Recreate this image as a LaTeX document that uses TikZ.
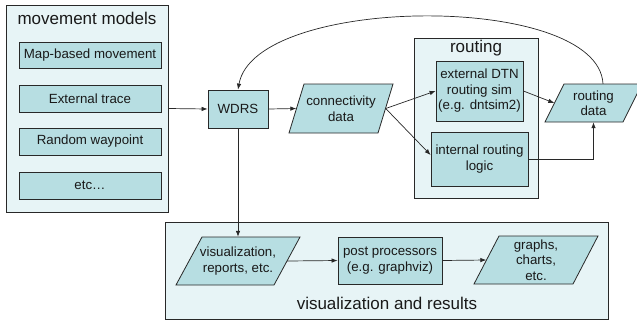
\documentclass[tikz,border=0pt]{standalone}
\usepackage{fontspec}
\setmainfont{Liberation Sans}
\usetikzlibrary{arrows.meta}
\definecolor{boxfill}{RGB}{183,222,226}
\definecolor{contfill}{RGB}{231,244,246}
\definecolor{bordc}{RGB}{40,40,40}
\definecolor{txtc}{RGB}{25,25,25}
\newcommand\parabox[7]{%
  \draw[parashape] ({#2-#4/2},{#3+#5/2}) -- ++(#6,-#5) -- ++(#4-#6,0) -- ++(-#6,#5) -- cycle;
  \node[paratext, minimum width=#4pt, minimum height=#5pt] (#1) at (#2,#3) {#7};}
\begin{document}
\begin{tikzpicture}[x=1pt,y=-1pt,
  smallfont/.style={font=\fontsize{13.3}{15.5}\selectfont, text=txtc},
  titlefont/.style={font=\fontsize{17}{20}\selectfont, text=txtc},
  container/.style={draw=bordc, fill=contfill, line width=0.8pt, inner sep=0pt},
  stepbox/.style={draw=bordc, fill=boxfill, line width=0.8pt, inner sep=0pt, align=center, smallfont},
  parashape/.style={draw=bordc, fill=boxfill, line width=0.8pt},
  paratext/.style={inner sep=0pt, align=center, smallfont},
  titletext/.style={inner sep=0pt, titlefont},
  conn/.style={draw=bordc, line width=0.7pt, -{Latex[length=6pt,width=4.5pt]}}]
\useasboundingbox (0,0) rectangle (637,325);
% movement models
\node[container, minimum width=162pt, minimum height=207pt] (mm) at (87,108.5) {};
\node[titletext] (mmt) at (87,18) {movement models};
\node[stepbox, minimum width=142pt, minimum height=26pt] (mm1) at (90,55) {Map-based movement};
\node[stepbox, minimum width=142pt, minimum height=27pt] (mm2) at (90,98.5) {External trace};
\node[stepbox, minimum width=142pt, minimum height=27pt] (mm3) at (90,141.5) {Random waypoint};
\node[stepbox, minimum width=142pt, minimum height=27pt] (mm4) at (90,185.5) {etc\dots};
% WDRS
\node[stepbox, minimum width=60pt, minimum height=38pt] (wdrs) at (238,109) {WDRS};
% connectivity data
\parabox{conn}{341}{108.5}{104}{49}{15}{connectivity\\data}
% routing
\node[container, minimum width=124pt, minimum height=160pt] (rout) at (476,118) {};
\node[titletext] (routt) at (476,48) {routing};
\node[stepbox, minimum width=87pt, minimum height=60pt] (ext) at (479.5,91) {external DTN\\routing sim\\(e.g. dntsim2)};
\node[stepbox, minimum width=97pt, minimum height=54pt] (int) at (479.5,159) {internal routing\\logic};
% routing data
\parabox{rd}{593.5}{103}{97}{38}{19}{routing\\data}
% visualization and results
\node[container, minimum width=443pt, minimum height=97pt] (vr) at (386.5,270.5) {};
\node[titletext] (vrt) at (387,303) {visualization and results};
\parabox{viz}{238}{261}{124}{48}{26}{visualization,\\reports, etc.}
\node[stepbox, minimum width=104pt, minimum height=47pt] (post) at (390,260.5) {post processors\\(e.g. graphviz)};
\parabox{graphs}{536}{260}{124}{48}{25}{graphs,\\charts,\\etc.}
% connectors
\draw[conn] (mm.east) -- (wdrs.west);
\draw[conn] (wdrs.east) -- ([xshift=7.5pt]conn.west);
\draw[conn] ([xshift=-7.5pt]conn.east) -- (ext.west);
\draw[conn] ([xshift=-7.5pt]conn.east) -- ([yshift=4pt]int.west);
\draw[conn] (ext.east) -- ([xshift=9.5pt]rd.west);
\draw[conn] (int.east) -| (rd.south);
\draw[conn] ([xshift=9.5pt]rd.north) .. controls +(-5,-92) and +(17,-95) .. (wdrs.north);
\draw[conn] (wdrs.south) -- (viz.north);
\draw[conn] ([xshift=-13pt]viz.east) -- (post.west);
\draw[conn] (post.east) -- ([xshift=12.5pt]graphs.west);
\end{tikzpicture}
\end{document}
